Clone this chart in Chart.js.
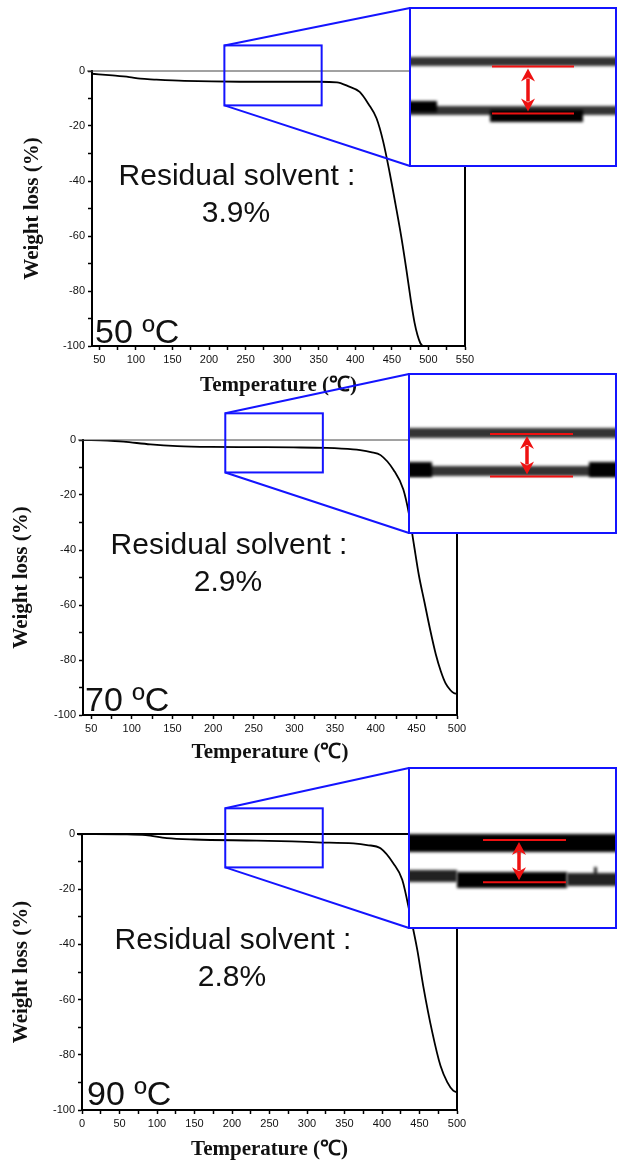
<!DOCTYPE html>
<html>
<head>
<meta charset="utf-8">
<script src="https://cdn.jsdelivr.net/npm/chart.js@4.4.0/dist/chart.umd.min.js"></script>
<style>
  body { margin: 0; background: #fff; }
  #page { position: relative; width: 621px; height: 1162px; overflow: hidden; background: #fff; }
  canvas { position: absolute; left: 0; }
  .note { position: absolute; transform: translate(-50%, -50%); white-space: nowrap; color: #111;
          font-family: "Liberation Sans", Arial, sans-serif; font-size: 30px; line-height: 30px; }
  .temp { position: absolute; transform: translateY(-50%); white-space: nowrap; color: #111;
          font-family: "Liberation Sans", Arial, sans-serif; font-size: 34px; line-height: 34px; }
</style>
</head>
<body>
<div id="page">
  <canvas id="c1" width="621" height="400" style="top:0px"></canvas>
  <canvas id="c2" width="621" height="395" style="top:370px"></canvas>
  <canvas id="c3" width="621" height="400" style="top:762px"></canvas>
</div>
<script>
// TGA curves (temperature in degC, weight loss in %)
const temp50 = [40, 68, 91, 106, 125, 166, 242, 300, 350, 375, 390, 406, 418, 429, 438, 447, 455, 463, 470, 476, 481, 485, 489, 492];
const loss50 = [-1.0, -1.6, -2.2, -2.8, -3.1, -3.6, -3.9, -3.9, -3.9, -4.1, -5.5, -7.6, -12.0, -17.2, -25.5, -37.0, -48.5, -60.5, -72.5, -83.5, -91.5, -96.0, -99.0, -100];

const temp70 = [40, 70, 90, 123, 156, 197, 250, 299, 340, 372, 381, 394, 406, 422, 434, 441, 447, 453, 460, 467, 474, 480, 486, 492, 496, 500];
const loss70 = [0, -0.2, -0.6, -1.6, -2.2, -2.5, -2.6, -2.7, -2.9, -3.4, -3.7, -4.4, -5.5, -10.9, -18.0, -27.0, -38.0, -49.0, -59.0, -69.0, -78.0, -84.0, -88.5, -91.0, -92.0, -92.3];

const temp90 = [0, 60, 85, 113, 150, 233, 280, 313, 362, 380, 398, 415, 427, 438, 447, 455, 467, 478, 487, 495, 500];
const loss90 = [0, -0.1, -0.4, -1.5, -2.0, -2.4, -2.7, -3.0, -3.4, -4.0, -5.2, -10.6, -16.6, -29.9, -41.9, -55.1, -71.8, -84.0, -89.9, -93.0, -93.6];

// axis ticks
const xTicks50 = [50, 100, 150, 200, 250, 300, 350, 400, 450, 500, 550];
const xTicks70 = [50, 100, 150, 200, 250, 300, 350, 400, 450, 500];
const xTicks90 = [0, 50, 100, 150, 200, 250, 300, 350, 400, 450, 500];
const yTicks = [0, -20, -40, -60, -80, -100];

// zoomed window on each curve: [T start, T end], [top %, bottom %]
const zoomT50 = [221, 354], zoomW50 = [9.3, -12.5];
const zoomT70 = [215, 335], zoomW70 = [9.7, -11.8];
const zoomT90 = [191, 321], zoomW90 = [9.3, -12.1];

const dryTemps = ['50 ºC', '70 ºC', '90 ºC'];
const residual = ['3.9%', '2.9%', '2.8%'];

// layout (page pixels)
const panels = [
  { id: 'c1', top: 0, height: 400, plot: [92, 71, 465, 346], xRange: [40, 550],
    yTitlePad: 20, xTitlePad: 2, topLine: ['#444', 1],
    inset: [410, 8, 616, 166],
    bands: [[400, 57, 630, 66, '#333'], [400, 106, 630, 115, '#333'],
            [400, 101, 437, 112, '#000'], [490, 110, 583, 122, '#000']],
    red: [492, 574, 66.5, 113.5], arrowX: 528,
    note: [237, 175], val: [236, 212], tempAt: [95, 331] },
  { id: 'c2', top: 370, height: 395, plot: [83, 440, 457, 715], xRange: [40, 500],
    yTitlePad: 9, xTitlePad: 0, topLine: ['#444', 1],
    inset: [409, 374, 616, 533],
    bands: [[400, 428, 630, 438, '#333'], [400, 466, 630, 476, '#333'],
            [400, 462, 432, 477, '#000'], [589, 462, 630, 477, '#000']],
    red: [490, 573, 434, 476.5], arrowX: 527,
    note: [229, 544], val: [228, 581], tempAt: [85, 699] },
  { id: 'c3', top: 762, height: 400, plot: [82, 834, 457, 1110], xRange: [0, 500],
    yTitlePad: 9, xTitlePad: 0, topLine: ['#000', 2],
    inset: [409, 768, 616, 928],
    bands: [[400, 834, 630, 852, '#000'], [400, 870, 457, 882, '#222'],
            [457, 872, 567, 888, '#000'], [567, 873, 630, 886, '#222'], [594, 867, 597, 876, '#222']],
    red: [483, 566, 840, 882.3], arrowX: 519,
    note: [233, 939], val: [232, 976], tempAt: [87, 1093] }
];

const BLUE = '#1414ff', RED = '#ee1111';

function withMinors(major) {
  const all = major.slice();
  for (let i = 0; i < major.length - 1; i++) all.push((major[i] + major[i + 1]) / 2);
  return all.sort((a, b) => a - b);
}

function redArrow(ctx, x, y0, y1) {
  const h = 14, w = 7;
  ctx.lineWidth = 3.5;
  ctx.beginPath(); ctx.moveTo(x, y0 + h - 3); ctx.lineTo(x, y1 - h + 3); ctx.stroke();
  ctx.beginPath();
  ctx.moveTo(x, y0 + 1); ctx.lineTo(x - w, y0 + h); ctx.lineTo(x, y0 + h - 4); ctx.lineTo(x + w, y0 + h);
  ctx.closePath(); ctx.fill();
  ctx.beginPath();
  ctx.moveTo(x, y1 - 1); ctx.lineTo(x - w, y1 - h); ctx.lineTo(x, y1 - h + 4); ctx.lineTo(x + w, y1 - h);
  ctx.closePath(); ctx.fill();
}

function decor(p, zoomT, zoomW) {
  return {
    id: 'decor',
    afterDraw(chart) {
      const { ctx, chartArea: a, scales: { x, y } } = chart;
      const dy = p.top;
      ctx.save();
      // frame: top line at 0 % and right border
      ctx.strokeStyle = p.topLine[0]; ctx.lineWidth = p.topLine[1];
      ctx.beginPath(); ctx.moveTo(a.left - 5, a.top); ctx.lineTo(a.right, a.top); ctx.stroke();
      ctx.strokeStyle = '#000'; ctx.lineWidth = 2;
      ctx.beginPath(); ctx.moveTo(a.right, a.top); ctx.lineTo(a.right, a.bottom + 1); ctx.stroke();

      // zoom window
      const bx0 = x.getPixelForValue(zoomT[0]), bx1 = x.getPixelForValue(zoomT[1]);
      const by0 = y.getPixelForValue(zoomW[0]), by1 = y.getPixelForValue(zoomW[1]);
      ctx.strokeStyle = BLUE; ctx.lineWidth = 2;
      ctx.strokeRect(bx0, by0, bx1 - bx0, by1 - by0);

      // inset with magnified view
      const L = p.inset[0], T = p.inset[1] - dy, R = p.inset[2], B = p.inset[3] - dy;
      ctx.fillStyle = '#fff'; ctx.fillRect(L, T, R - L, B - T);
      ctx.save();
      ctx.beginPath(); ctx.rect(L, T, R - L, B - T); ctx.clip();
      ctx.filter = 'blur(1.8px)';
      p.bands.forEach(([x0, y0, x1, y1, c]) => {
        ctx.fillStyle = c; ctx.fillRect(x0, y0 - dy, x1 - x0, y1 - y0);
      });
      ctx.restore();

      ctx.strokeStyle = RED; ctx.fillStyle = RED; ctx.lineWidth = 2;
      ctx.beginPath();
      ctx.moveTo(p.red[0], p.red[2] - dy); ctx.lineTo(p.red[1], p.red[2] - dy);
      ctx.moveTo(p.red[0], p.red[3] - dy); ctx.lineTo(p.red[1], p.red[3] - dy);
      ctx.stroke();
      redArrow(ctx, p.arrowX, p.red[2] - dy + 1, p.red[3] - dy - 1);

      ctx.strokeStyle = BLUE; ctx.lineWidth = 2;
      ctx.strokeRect(L, T, R - L, B - T);
      ctx.beginPath();
      ctx.moveTo(bx0, by0); ctx.lineTo(L, T);
      ctx.moveTo(bx0, by1); ctx.lineTo(L, B);
      ctx.stroke();
      ctx.restore();
    }
  };
}

function makePanel(p, temps, losses, xMajor, zoomT, zoomW) {
  const [pl, pt, pr, pb] = p.plot;
  const xAll = withMinors(xMajor);
  const yAll = withMinors(yTicks);
  const tickFont = { family: '"Liberation Sans Narrow", "Liberation Sans", Arial', size: 11 };
  const titleFont = { family: '"Liberation Serif", "Times New Roman", serif', size: 21, weight: 'bold' };

  new Chart(document.getElementById(p.id), {
    type: 'line',
    data: {
      datasets: [{
        data: temps.map((t, i) => ({ x: t, y: losses[i] })),
        borderColor: '#000',
        borderWidth: 1.8,
        pointRadius: 0,
        fill: false,
        cubicInterpolationMode: 'monotone'
      }]
    },
    options: {
      responsive: false,
      animation: false,
      layout: { padding: { left: 0, top: pt - p.top, right: 621 - pr, bottom: 0 } },
      plugins: { legend: { display: false }, tooltip: { enabled: false } },
      scales: {
        x: {
          type: 'linear', min: p.xRange[0], max: p.xRange[1],
          afterBuildTicks: s => { s.ticks = xAll.map(v => ({ value: v })); },
          afterFit: s => { s.height = p.top + p.height - pb; },
          grid: { drawOnChartArea: false, drawTicks: true, tickLength: 4, tickColor: '#000', tickWidth: 1.5 },
          border: { display: true, color: '#000', width: 2 },
          ticks: { autoSkip: false, maxRotation: 0, padding: 3, color: '#111', font: tickFont,
                   callback: v => xMajor.includes(v) ? String(v) : '' },
          title: { display: true, text: 'Temperature (℃)', color: '#111', font: titleFont,
                   padding: { top: 0, bottom: p.xTitlePad } }
        },
        y: {
          type: 'linear', min: -100, max: 0,
          afterBuildTicks: s => { s.ticks = yAll.map(v => ({ value: v })); },
          afterFit: s => { s.width = pl; },
          grid: { drawOnChartArea: false, drawTicks: true, tickLength: 4, tickColor: '#000', tickWidth: 1.5 },
          border: { display: true, color: '#000', width: 2 },
          ticks: { autoSkip: false, padding: 3, color: '#111', font: tickFont,
                   callback: v => yTicks.includes(v) ? String(v) : '' },
          title: { display: true, text: 'Weight loss (%)', color: '#111', font: titleFont,
                   padding: { top: p.yTitlePad, bottom: 0 } }
        }
      }
    },
    plugins: [decor(p, zoomT, zoomW)]
  });
}

makePanel(panels[0], temp50, loss50, xTicks50, zoomT50, zoomW50);
makePanel(panels[1], temp70, loss70, xTicks70, zoomT70, zoomW70);
makePanel(panels[2], temp90, loss90, xTicks90, zoomT90, zoomW90);

// annotations as page text
const page = document.getElementById('page');
panels.forEach((p, i) => {
  const add = (cls, text, left, top) => {
    const d = document.createElement('div');
    d.className = cls; d.textContent = text;
    d.style.left = left + 'px'; d.style.top = top + 'px';
    page.appendChild(d);
  };
  add('note', 'Residual solvent :', p.note[0], p.note[1]);
  add('note', residual[i], p.val[0], p.val[1]);
  add('temp', dryTemps[i], p.tempAt[0], p.tempAt[1]);
});
</script>
</body>
</html>
